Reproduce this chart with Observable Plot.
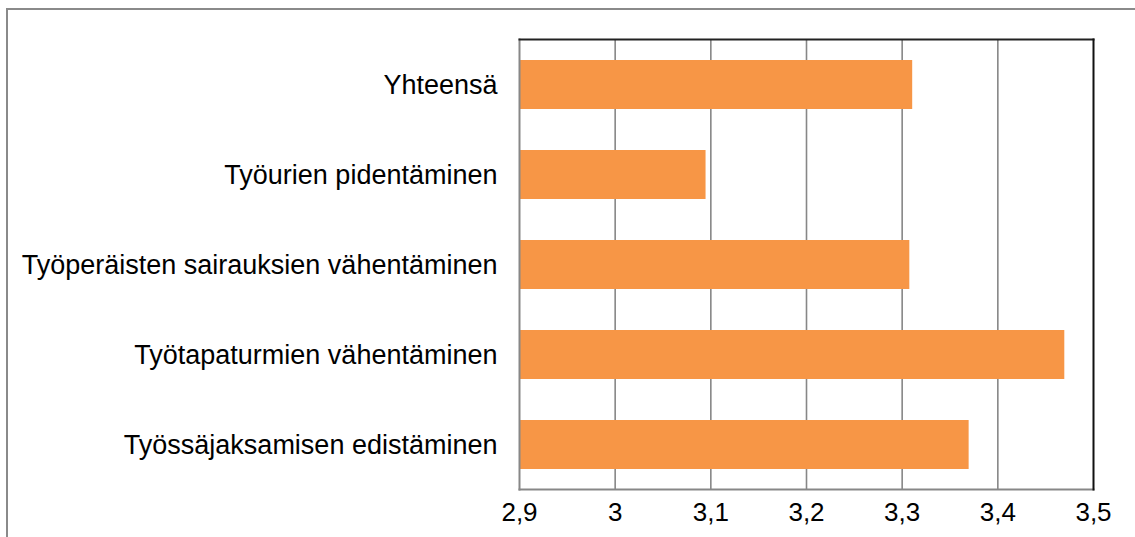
<!DOCTYPE html>
<html><head><meta charset="utf-8">
<script src="https://cdn.jsdelivr.net/npm/d3@7"></script>
<script src="https://cdn.jsdelivr.net/npm/@observablehq/plot@0.6"></script>
<style>
body{margin:0;background:#fff;}
#wrap{position:relative;width:1135px;height:537px;overflow:hidden;}
#wrap svg{position:absolute;left:0;top:0;}
#border{position:absolute;left:6px;top:8px;width:1200px;height:600px;border-left:2px solid #8a8a8a;border-top:2px solid #8a8a8a;pointer-events:none;}
</style></head><body><div id="wrap"><div id="border"></div></div>
<script>
const categories = [
  "Yhteensä",
  "Työurien pidentäminen",
  "Työperäisten sairauksien vähentäminen",
  "Työtapaturmien vähentäminen",
  "Työssäjaksamisen edistäminen"
];
const values = [3.311, 3.095, 3.308, 3.470, 3.370];
const xTicks = [2.9, 3.0, 3.1, 3.2, 3.3, 3.4, 3.5];
const baseline = xTicks[0];
const xMax = xTicks[xTicks.length - 1];

const data = categories.map((c, i) => ({category: c, value: values[i]}));

const chart = Plot.plot({
  width: 1135,
  height: 537,
  marginLeft: 519,
  marginRight: 42,
  marginTop: 39,
  marginBottom: 48,
  style: {fontFamily: "'Liberation Sans', Arial, sans-serif", fontSize: "27px", color: "#000", background: "transparent", overflow: "visible"},
  x: {domain: [baseline, xMax], ticks: xTicks, tickFormat: d => String(d).replace(".", ","), tickSize: 0, tickPadding: 14, label: null},
  y: {domain: categories, paddingInner: 0.46, paddingOuter: 0.23, tickSize: 0, tickPadding: 22, label: null},
  marks: [
    Plot.ruleX(xTicks.slice(1, -1), {stroke: "#878787", strokeWidth: 1.6}),
    Plot.barX(data, {y: "category", x1: baseline, x2: "value", fill: "#F79646"}),
    Plot.frame({anchor: "bottom", stroke: "#878787", strokeWidth: 2}),
    Plot.frame({anchor: "left", stroke: "#878787", strokeWidth: 2}),
    Plot.frame({anchor: "top", stroke: "#222", strokeWidth: 2}),
    Plot.frame({anchor: "right", stroke: "#111", strokeWidth: 2}),
    Plot.axisX({ticks: xTicks, tickFormat: d => String(d).replace(".", ","), tickSize: 0, tickPadding: 13, fontSize: 26, label: null}),
    Plot.axisY({tickSize: 0, tickPadding: 22, fontSize: 27, label: null})
  ]
});
document.getElementById("wrap").appendChild(chart);
</script>
</body></html>
